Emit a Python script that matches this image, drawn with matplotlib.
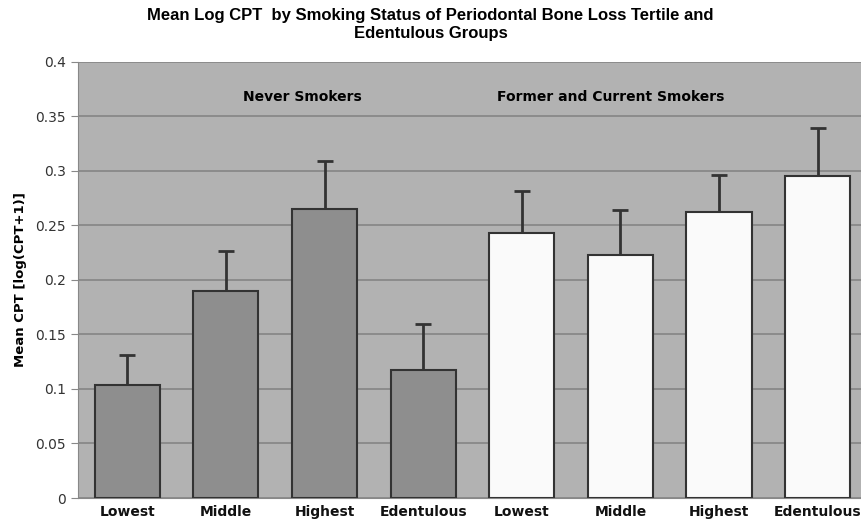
import numpy as np
import matplotlib.pyplot as plt

plt.rcParams['font.family'] = ['DejaVu Sans']

groups = ['Lowest', 'Middle', 'Highest', 'Edentulous']
never_mean = [0.104, 0.190, 0.265, 0.117]
never_err = [0.027, 0.037, 0.044, 0.043]
smoker_mean = [0.243, 0.223, 0.262, 0.295]
smoker_err = [0.039, 0.041, 0.034, 0.044]

labels = groups + groups
means = never_mean + smoker_mean
errs = never_err + smoker_err
colors = ['#8e8e8e'] * 4 + ['#fafafa'] * 4

fig = plt.figure(figsize=(8.61, 5.23), dpi=100)
ax = fig.add_axes([0.0906, 0.0478, 0.9094, 0.8337])
ax.set_facecolor('#b2b2b2')

x = np.arange(len(means))
ax.bar(x, means, width=0.66, color=colors, edgecolor='#333333', linewidth=1.5, zorder=3)
ax.errorbar(x, means, yerr=[np.zeros(len(errs)), errs], fmt='none', ecolor='#333333',
            elinewidth=2, capsize=6, capthick=2, zorder=2)

ax.set_ylim(0, 0.4)
ax.set_xlim(-0.5, 7.44)
ax.set_yticks(np.arange(0, 0.41, 0.05))
ax.set_yticklabels(['0', '0.05', '0.1', '0.15', '0.2', '0.25', '0.3', '0.35', '0.4'])
ax.yaxis.grid(True, color='#858585', linewidth=1.2, zorder=0)
ax.set_axisbelow(True)
ax.set_xticks(x)
ax.set_xticklabels(labels, fontweight='bold', fontsize=10, color='#111111')
ax.tick_params(axis='x', length=0, pad=5)
ax.tick_params(axis='y', labelsize=10, length=5, color='#888888', labelcolor='#333333')
for s in ['top', 'right']:
    ax.spines[s].set_visible(False)
ax.spines['left'].set_color('#888888')
ax.spines['bottom'].set_color('#888888')

ax.set_ylabel('Mean CPT [log(CPT+1)]', fontweight='bold', fontsize=9.5, labelpad=6)

ax.text(1.78, 0.368, 'Never Smokers', ha='center', va='center', fontweight='bold', fontsize=10)
ax.text(4.9, 0.368, 'Former and Current Smokers', ha='center', va='center', fontweight='bold', fontsize=10)

fig.suptitle('Mean Log CPT  by Smoking Status of Periodontal Bone Loss Tertile and\nEdentulous Groups',
             family='Liberation Sans', fontweight='bold', fontsize=12, x=0.5, y=0.985, linespacing=1.25)

fig.savefig('out.png', dpi=100)
